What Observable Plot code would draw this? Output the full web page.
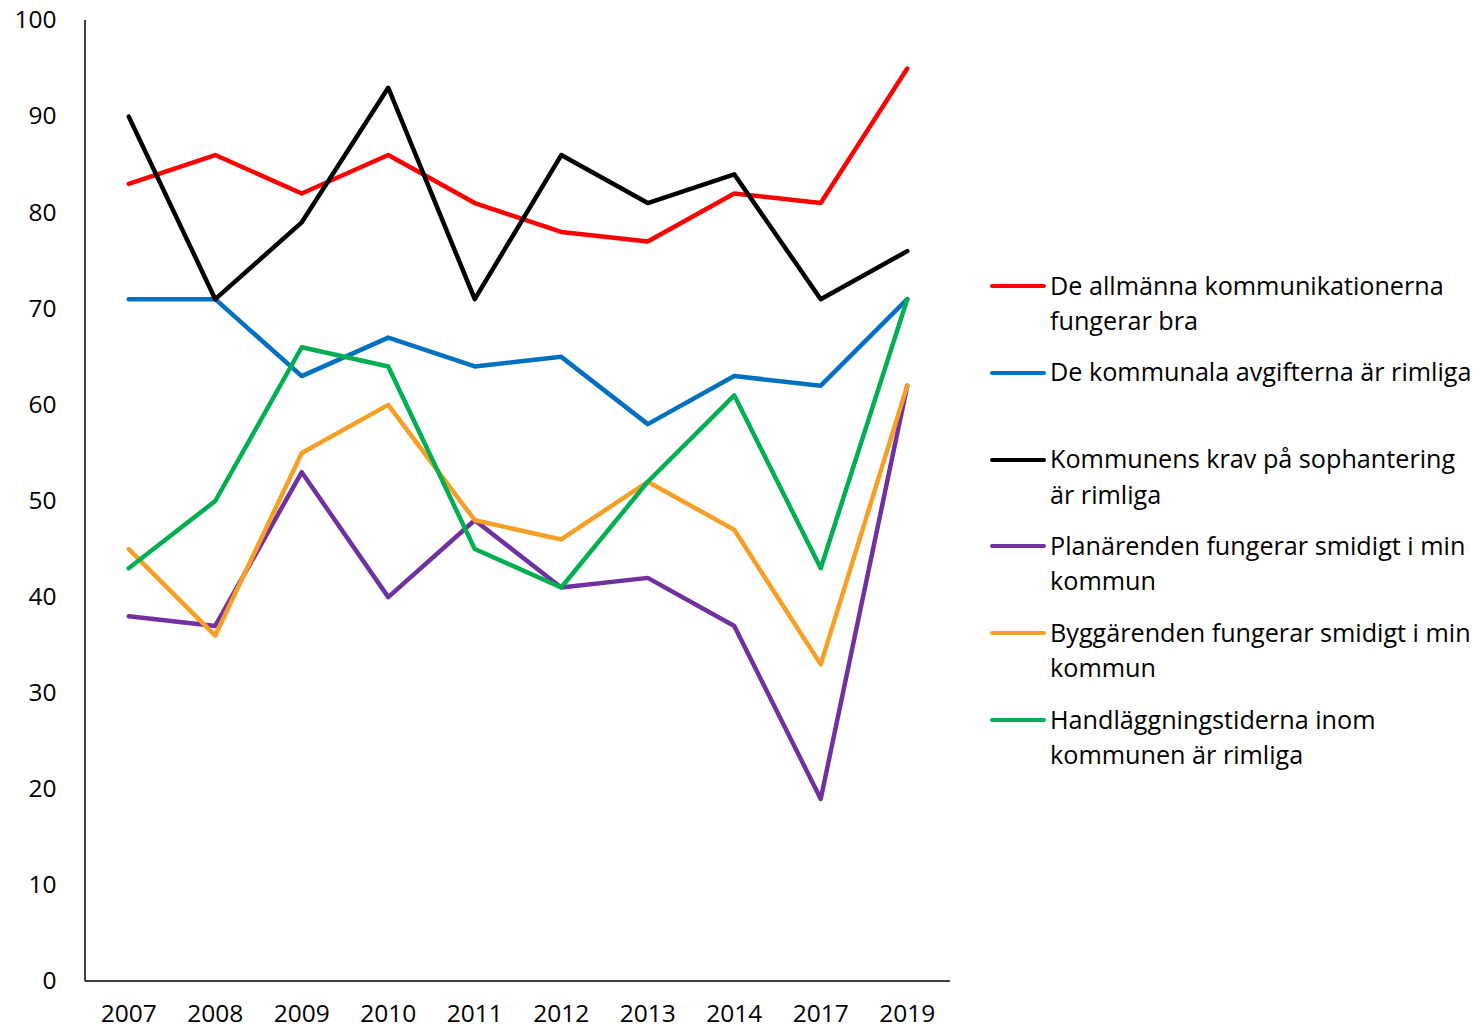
<!DOCTYPE html>
<html><head><meta charset="utf-8">
<script src="https://cdn.jsdelivr.net/npm/d3@7"></script>
<script src="https://cdn.jsdelivr.net/npm/@observablehq/plot@0.6"></script>
<style>
body{margin:0;background:#fff;font-family:"Open Sans",sans-serif;}
#wrap{position:relative;width:1479px;height:1031px;}
#legend{position:absolute;left:990px;top:0;}
.item{position:absolute;left:0;width:489px;}
.sw{position:absolute;left:0;width:56px;height:4px;border-radius:2px;}
.lab{position:absolute;left:60px;font-size:25.2px;line-height:35px;color:#000;white-space:nowrap;}
</style></head><body>
<div id="wrap"><div id="chart"></div><div id="legend"></div></div>
<script>
const years = ["2007","2008","2009","2010","2011","2012","2013","2014","2017","2019"];
const seriesNames = [
  "De allmänna kommunikationerna fungerar bra",
  "De kommunala avgifterna är rimliga",
  "Kommunens krav på sophantering är rimliga",
  "Planärenden fungerar smidigt i min kommun",
  "Byggärenden fungerar smidigt i min kommun",
  "Handläggningstiderna inom kommunen är rimliga"
];
const legendLines = [
  ["De allmänna kommunikationerna","fungerar bra"],
  ["De kommunala avgifterna är rimliga"],
  ["Kommunens krav på sophantering","är rimliga"],
  ["Planärenden fungerar smidigt i min","kommun"],
  ["Byggärenden fungerar smidigt i min","kommun"],
  ["Handläggningstiderna inom","kommunen är rimliga"]
];
const colors = ["#FF0000","#0070C0","#000000","#7030A0","#F79E25","#00B050"];
const kommunikationer = [83,86,82,86,81,78,77,82,81,95];
const avgifter = [71,71,63,67,64,65,58,63,62,71];
const sophantering = [90,71,79,93,71,86,81,84,71,76];
const planarenden = [38,37,53,40,48,41,42,37,19,62];
const byggarenden = [45,36,55,60,48,46,52,47,33,62];
const handlaggning = [43,50,66,64,45,41,52,61,43,71];
const yTicks = [0,10,20,30,40,50,60,70,80,90,100];

const allSeries = [kommunikationer, avgifter, sophantering, planarenden, byggarenden, handlaggning];
const data = [];
allSeries.forEach((vals, i) => vals.forEach((v, j) => data.push({year: years[j], value: v, series: seriesNames[i]})));
const chart = Plot.plot({
  width: 1479, height: 1031,
  marginLeft: 85, marginRight: 529, marginTop: 20, marginBottom: 50,
  style: {fontFamily: "'Open Sans', sans-serif", fontSize: "24.5px", color: "#000", background: "#fff"},
  x: {type: "point", domain: years, padding: 0.5, round: false, label: null, tickSize: 0, tickPadding: 23},
  y: {domain: [0,100], ticks: yTicks, label: null, tickSize: 0, tickPadding: 29},
  color: {domain: seriesNames, range: colors},
  marks: [
    Plot.lineY(data, {x: "year", y: "value", z: "series", stroke: "series", strokeWidth: 4.5, strokeLinejoin: "round", strokeLinecap: "round"})
  ]
});
document.getElementById("chart").appendChild(chart);
const svg = d3.select(chart);
const ys = chart.scale("y");
svg.append("line").attr("x1",85).attr("x2",85).attr("y1",ys.apply(100)).attr("y2",ys.apply(0)).attr("stroke","#000").attr("stroke-width",1.5);
svg.append("line").attr("x1",85).attr("x2",950).attr("y1",ys.apply(0)).attr("y2",ys.apply(0)).attr("stroke","#000").attr("stroke-width",1.5);

const legend = document.getElementById("legend");
legendLines.forEach((lines, i) => {
  const top = 286 + i * 86.8;
  const item = document.createElement("div");
  item.className = "item";
  item.style.top = top + "px";
  const sw = document.createElement("div");
  sw.className = "sw"; sw.style.background = colors[i]; sw.style.top = "-2px";
  item.appendChild(sw);
  lines.forEach((t, k) => {
    const l = document.createElement("div");
    l.className = "lab"; l.textContent = t; l.style.top = (-18.5 + k*35.5) + "px";
    item.appendChild(l);
  });
  legend.appendChild(item);
});
</script></body></html>
